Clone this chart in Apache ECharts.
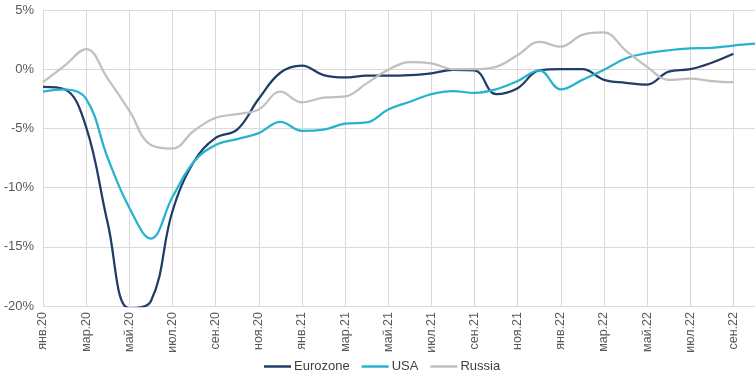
<!DOCTYPE html>
<html>
<head>
<meta charset="utf-8">
<script src="https://cdn.jsdelivr.net/npm/echarts@6/dist/echarts.min.js"></script>
<style>
html,body{margin:0;padding:0;background:#fff;}
#chart{width:756px;height:379px;}
</style>
</head>
<body>
<div id="chart"></div>
<script>
const categories = ['янв.20','фев.20','мар.20','апр.20','май.20','июн.20','июл.20','авг.20','сен.20','окт.20','ноя.20','дек.20',
  'янв.21','фев.21','мар.21','апр.21','май.21','июн.21','июл.21','авг.21','сен.21','окт.21','ноя.21','дек.21',
  'янв.22','фев.22','мар.22','апр.22','май.22','июн.22','июл.22','авг.22','сен.22','окт.22'];

const eurozone = [-1.5,-1.7,-4.9,-13.0,-20.2,-19.6,-12.0,-7.8,-5.8,-5.1,-2.5,-0.3,
  0.3,-0.5,-0.7,-0.55,-0.55,-0.5,-0.35,-0.05,-0.1,-2.1,-1.6,-0.1,
  0.0,0.0,-0.9,-1.15,-1.3,-0.2,0.0,0.55,1.3,null];

const usa = [-1.9,-1.7,-2.5,-7.5,-11.7,-14.3,-10.8,-7.8,-6.4,-5.9,-5.4,-4.45,
  -5.2,-5.1,-4.6,-4.5,-3.4,-2.75,-2.1,-1.85,-2.0,-1.7,-1.0,-0.1,
  -1.7,-0.9,-0.05,0.9,1.35,1.6,1.75,1.8,2.0,2.15];

const russia = [-1.1,0.3,1.7,-0.8,-3.5,-6.4,-6.7,-5.2,-4.1,-3.8,-3.4,-1.9,
  -2.8,-2.4,-2.3,-1.2,-0.05,0.6,0.5,0.0,0.0,0.2,1.2,2.3,
  1.9,2.9,3.1,1.6,0.2,-0.9,-0.8,-1.0,-1.1,null];

const yTicks = {min:-20, max:5, step:5};

const font = '"Liberation Sans", Arial, sans-serif';
const chart = echarts.init(document.getElementById('chart'), null, {renderer:'canvas'});
function mk(name, data, color){
  return {name, type:'line', data, smooth:0.4, showSymbol:false, symbol:'none',
    lineStyle:{color, width:2.25}, itemStyle:{color}, clip:true, animation:false, connectNulls:false};
}
chart.setOption({
  animation:false,
  grid:{left:43, right:1, top:10, bottom:73, containLabel:false},
  xAxis:{type:'category', data:categories, boundaryGap:false,
    axisLine:{show:true, lineStyle:{color:'#d9d9d9', width:1}},
    axisTick:{show:false},
    axisLabel:{rotate:90, interval:1, color:'#595959', fontSize:12.5, fontFamily:font, margin:6},
    splitLine:{show:true, interval:1, lineStyle:{color:'#d9d9d9', width:1}}
  },
  yAxis:{type:'value', min:yTicks.min, max:yTicks.max, interval:yTicks.step,
    axisLine:{show:false}, axisTick:{show:false},
    axisLabel:{formatter:'{value}%', color:'#595959', fontSize:13, fontFamily:font, margin:9},
    splitLine:{show:true, lineStyle:{color:'#d9d9d9', width:1}}
  },
  legend:{bottom:1, left:259, icon:'rect', itemWidth:27, itemHeight:2.5, itemGap:12,
    textStyle:{color:'#404040', fontSize:13, fontFamily:font, padding:[0,0,0,-2]},
    data:['Eurozone','USA','Russia']},
  series:[
    mk('Eurozone', eurozone, '#1f3d66'),
    mk('USA', usa, '#27b3cf'),
    mk('Russia', russia, '#c0c0c0')
  ]
});
</script>
</body>
</html>
